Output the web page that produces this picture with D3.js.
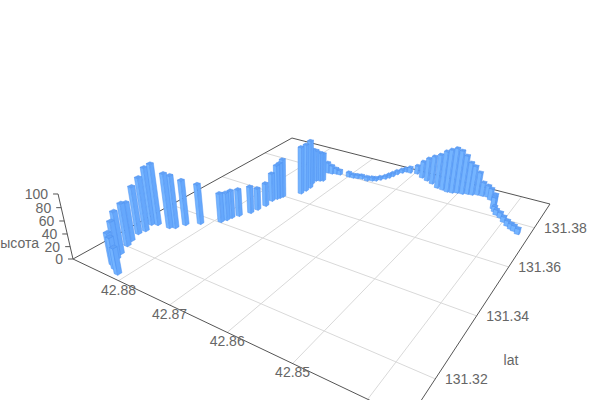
<!DOCTYPE html><html><head><meta charset="utf-8"><style>html,body{margin:0;background:#fff}svg{display:block}text{font-family:"Liberation Sans",Arial,sans-serif;font-size:14px;fill:#666}</style></head><body><script src="https://cdn.jsdelivr.net/npm/d3@7"></script><svg id="c" width="600" height="400"></svg><script>
const lon=[42.8815,42.8829,42.8840,42.8847,42.8853,42.8862,42.8868,42.8875,42.8872,42.8879,42.8870,42.8847,42.8839,42.8832,42.8814,42.8790,42.8786,42.8784,42.8778,42.8768,42.8765,42.8762,42.8764,42.8761,42.8759,42.8757,42.8737,42.8736,42.8736,42.8742,42.8743,42.8737,42.8732,42.8743,42.8734,42.8727,42.8719,42.8700,42.8691,42.8683,42.8675,42.8663,42.8655,42.8649,42.8644,42.8638,42.8634,42.8631,42.8628,42.8623,42.8619,42.8610,42.8597,42.8582,42.8569,42.8556,42.8541,42.8530,42.8520,42.8511,42.8503,42.8494,42.8486,42.8478,42.8470,42.8461,42.8452,42.8444,42.8431,42.8429,42.8424,42.8418,42.8409,42.8400,42.8391,42.8383,42.8377,42.8369];
const lat=[131.3115,131.3125,131.3133,131.3154,131.3172,131.3204,131.3224,131.3255,131.3274,131.3303,131.3311,131.3316,131.3324,131.3348,131.3372,131.3407,131.3422,131.3437,131.3455,131.3483,131.3506,131.3534,131.3565,131.3581,131.3590,131.3599,131.3641,131.3662,131.3683,131.3706,131.3728,131.3734,131.3739,131.3791,131.3792,131.3798,131.3799,131.3801,131.3802,131.3806,131.3810,131.3807,131.3815,131.3821,131.3833,131.3846,131.3858,131.3873,131.3891,131.3908,131.3921,131.3921,131.3926,131.3910,131.3900,131.3890,131.3874,131.3871,131.3867,131.3869,131.3876,131.3878,131.3885,131.3887,131.3895,131.3896,131.3898,131.3886,131.3859,131.3842,131.3829,131.3815,131.3806,131.3790,131.3776,131.3766,131.3761,131.3752];
const heights=[41,49,50,59,67,68,62,77,87,94,100,89,86,74,66,48,46,46,45,45,37,39,48,59,61,66,82,82,84,63,56,52,50,19,15,10,8,8,6,6,6,7,6,5,5,5,6,6,6,6,6,10,15,30,41,50,60,69,75,79,75,68,56,51,40,24,20,20,20,20,9,9,9,9,9,9,9,9];
const lonTicks=[42.88,42.87,42.86,42.85];
const lonGrid=[42.88,42.87,42.86,42.85,42.84];
const latTicks=[131.32,131.34,131.36,131.38];
const hTicks=[0,20,40,60,80,100];
const barSize=0.0135;
const U=d3.scaleLinear().domain([42.89,42.88]).range([0,0.182]);
const V=d3.scaleLinear().domain([131.3097,131.3945]).range([0,1]);
const Z=d3.scaleLinear().domain([0,100]).range([0,1]);
const M={a:215.4,b:354.3,c:73,d:36.4,e:-57,f:259,g:-.2949,h:.4635,k3:-.0618};
const proj=(u,v,z=0)=>{const w=M.g*u+M.h*v+1+M.k3*z;return[(M.a*u+M.b*v+M.c+300*M.k3*z)/w,(M.d*u+M.e*v+M.f+1246*M.k3*z)/w]};
const svg=d3.select("#c");
const line=(p,q,col,sw=1)=>svg.append("line").attr("x1",p[0]).attr("y1",p[1]).attr("x2",q[0]).attr("y2",q[1]).attr("stroke",col).attr("stroke-width",sw);
const txt=(x,y,s,anchor="middle")=>svg.append("text").attr("x",x).attr("y",y).attr("dy","0.35em").attr("text-anchor",anchor).text(s);
lonGrid.forEach(t=>line(proj(U(t),0),proj(U(t),1),"#d9d9d9"));
latTicks.forEach(t=>line(proj(0,V(t)),proj(1,V(t)),"#d9d9d9"));
[[0,0,0,1],[0,1,1,1],[0,0,1,0],[1,0,1,1]].forEach(s=>line(proj(s[0],s[1]),proj(s[2],s[3]),"#555"));
line(proj(0,0,0),proj(0,0,1),"#555");
hTicks.forEach(t=>{const p=proj(0,0,Z(t));line(p,[p[0]-5,p[1]],"#555");txt(p[0]-10,p[1],t,"end")});
txt(39,243,"высота","end");
lonTicks.forEach(t=>{const p=proj(U(t),0);txt(p[0],p[1]+9,t.toFixed(2))});
latTicks.forEach(t=>{const p=proj(1,V(t));txt(p[0]+31,p[1],t.toFixed(2))});
txt(511,360,"lat");
const bars=d3.range(lon.length).map(i=>({u:U(lon[i]),v:V(lat[i]),z:Z(heights[i])}));
bars.forEach(b=>b.w=M.g*b.u+M.h*b.v);
bars.sort((a,b)=>b.w-a.w);
const s=barSize/2;
const path=pts=>"M"+pts.map(p=>p.map(n=>n.toFixed(2)).join(",")).join("L")+"Z";
const g=svg.append("g");
bars.forEach(b=>{
 const c=(du,dv,z)=>proj(b.u+du*s,b.v+dv*s,z);
 const face=(pts,fill)=>g.append("path").attr("d",path(pts)).attr("fill",fill).attr("stroke","#4f93f2").attr("stroke-width",0.6).attr("stroke-opacity",0.85);
 face([c(1,-1,0),c(-1,-1,0),c(-1,-1,b.z),c(1,-1,b.z)],"#74b4ff");
 face([c(1,-1,0),c(1,1,0),c(1,1,b.z),c(1,-1,b.z)],"#66a8fc");
 face([c(-1,-1,b.z),c(1,-1,b.z),c(1,1,b.z),c(-1,1,b.z)],"#62a2f6");
});
</script></body></html>
